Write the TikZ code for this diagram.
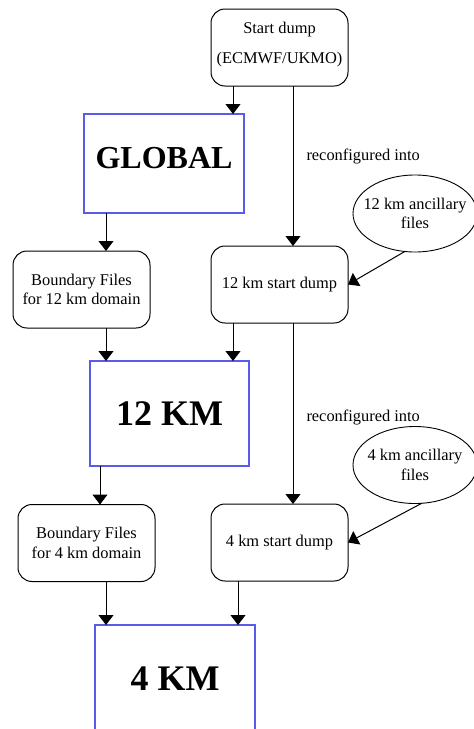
\documentclass[tikz,border=0pt]{standalone}
\usepackage{fontspec}
\setmainfont{Liberation Serif}
\usetikzlibrary{positioning}
\usetikzlibrary{calc}
\usetikzlibrary{arrows.meta,shapes}

\definecolor{modelblue}{RGB}{90,90,235}
\newcommand{\smallfont}{\fontsize{16.4}{19.7}\selectfont}

\tikzset{
dumpbox/.style={draw, rounded corners=14pt, line width=1pt, minimum width=137pt, minimum height=77pt, inner sep=0pt, outer sep=0pt, align=center, font=\smallfont},
modelbox/.style={draw=modelblue, line width=1.1pt, minimum width=160pt, inner sep=0pt, outer sep=0pt, font=\fontsize{36}{40}\selectfont\bfseries},
ancfile/.style={draw, ellipse, line width=0.9pt, minimum width=124pt, minimum height=77pt, inner sep=0pt, outer sep=0pt},
anctext/.style={align=center, font=\smallfont},
flow/.style={-{Triangle[width=15pt,length=10pt]}, line width=1pt},
lbl/.style={right, inner sep=0pt, xshift=13pt, font=\smallfont}
}

\begin{document}
\begin{tikzpicture}[x=1pt,y=-1pt]
\useasboundingbox (0,0) rectangle (474,729);

\node[dumpbox, text depth=10pt](startdump) at (279.5,47.5){Start dump\\[10pt](ECMWF/UKMO)};
\node[modelbox, minimum height=99pt, text height=22pt, text depth=13pt, font=\fontsize{32}{36}\selectfont\bfseries](global) at (164,163.5){GLOBAL};
\node[ancfile, label={[anctext]center:12 km ancillary\\files}](anc12) at (415,213.5){};
\node[dumpbox](bound12) at (81.5,289.5){Boundary Files\\for 12 km domain};
\node[dumpbox](dump12) at (279.5,284.5){12 km start dump};
\node[modelbox, minimum width=159pt, minimum height=105pt](km12) at (169.5,413.5){12 KM};
\node[ancfile, label={[anctext]center:4 km ancillary\\files}](anc4) at (415,465){};
\node[dumpbox](bound4) at (86.5,543){Boundary Files\\for 4 km domain};
\node[dumpbox](dump4) at (279.5,542.5){4 km start dump};
\node[modelbox, minimum height=108pt](km4) at (175,679){4 KM};

\path
([xshift=22pt]startdump.south west) edge[flow] ([xshift=-11pt]global.north east)
([xshift=82pt]startdump.south west) edge[flow] node[lbl, pos=0.44]{reconfigured into} ([xshift=82pt]dump12.north west)
(anc12.255) edge[flow] (dump12.east)
([xshift=22pt]global.south west) edge[flow] ([xshift=93pt]bound12.north west)
([xshift=93pt]bound12.south west) edge[flow] ([xshift=16pt]km12.north west)
([xshift=22pt]dump12.south west) edge[flow] ([xshift=-16pt]km12.north east)
([xshift=82pt]dump12.south west) edge[flow] node[lbl, pos=0.52]{reconfigured into} ([xshift=82pt]dump4.north west)
(anc4.280) edge[flow] (dump4.east)
([xshift=10pt]km12.south west) edge[flow] ([xshift=82pt]bound4.north west)
([xshift=88pt]bound4.south west) edge[flow] ([xshift=11pt]km4.north west)
([xshift=27pt]dump4.south west) edge[flow] ([xshift=-17pt]km4.north east);
\end{tikzpicture}
\end{document}
